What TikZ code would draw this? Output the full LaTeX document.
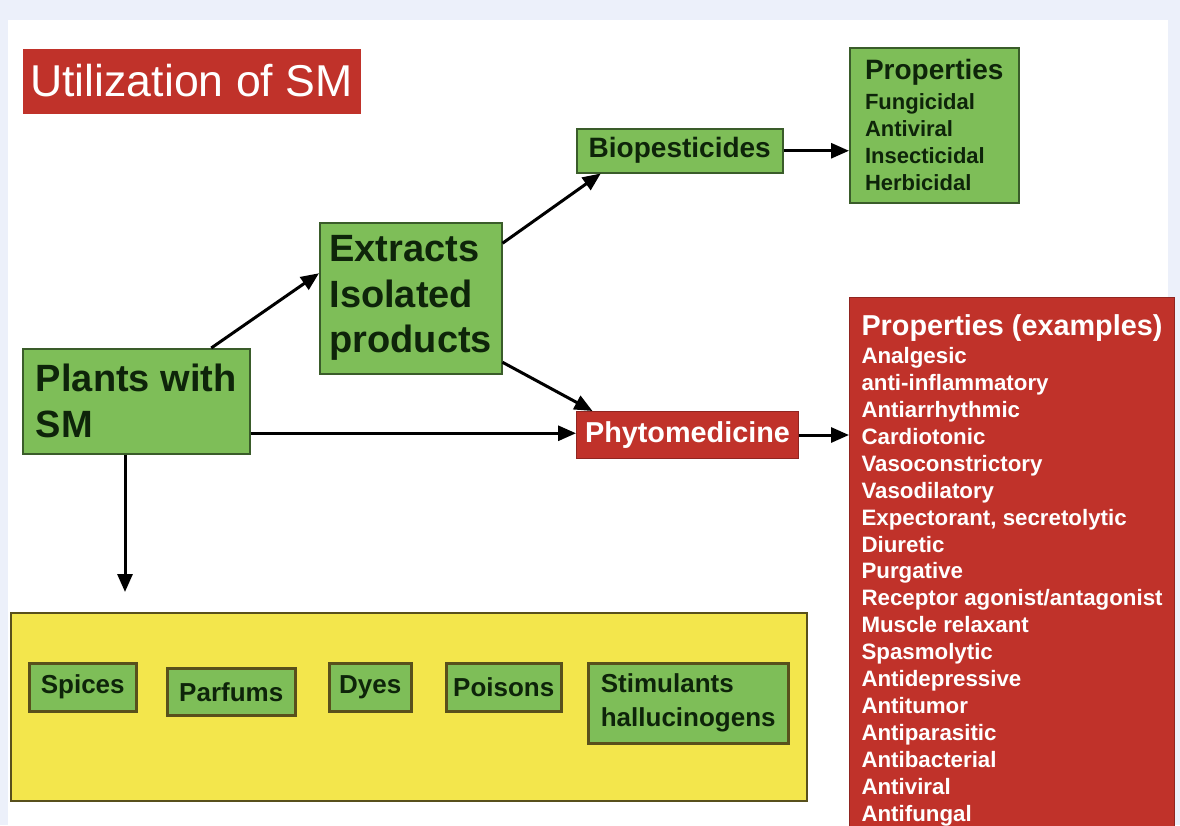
\documentclass[tikz,border=0pt]{standalone}
\usepackage{fontspec}
\setmainfont{Liberation Sans}
\usetikzlibrary{arrows.meta}
\usetikzlibrary{positioning}
\definecolor{smgreen}{RGB}{126,190,88}
\definecolor{smgreenline}{RGB}{58,92,42}
\definecolor{smred}{RGB}{192,50,42}
\definecolor{smyellow}{RGB}{243,230,76}
\definecolor{smolive}{RGB}{88,80,28}
\definecolor{smtext}{RGB}{14,36,10}
\definecolor{smframe}{RGB}{236,240,250}
\tikzset{greenbox/.style = {draw=smgreenline, fill=smgreen, line width=1.5pt, text=smtext, font=\bfseries, inner sep=0, anchor=north west}}
\tikzset{redbox/.style = {draw=smred!75!black, fill=smred, line width=1pt, text=white, font=\bfseries, inner sep=0, anchor=north west}}
\tikzset{usebox/.style = {greenbox, draw=smolive, line width=2.5pt, font=\fontsize{26}{34}\selectfont\bfseries}}
\tikzset{flow/.style = {-{Triangle[length=18pt,width=15pt]}, line width=3pt, black}}

\begin{document}
\begin{tikzpicture}[x=1pt, y=-1pt]
        \useasboundingbox (0,0) rectangle (1180,825);
        \clip (0,0) rectangle (1180,825);
        \fill [smframe] (0,0) rectangle (1180,825);
        \fill [white] (8,20) rectangle (1168,825);
        % title
        \node [redbox, draw=none, font=\fontsize{44.6}{50}\selectfont, minimum width=338, minimum height=65] (title) at (22,48) {Utilization of SM};
        % main flow
        \node [greenbox, font=\fontsize{38}{46}\selectfont\bfseries, minimum width=227, minimum height=105, align=left] (plants) at (22,348) {Plants with\\SM};
        \node [greenbox, font=\fontsize{38}{45.5}\selectfont\bfseries, minimum width=182, minimum height=151, align=left] (extracts) at (319,222) {Extracts\\Isolated\\products};
        \node [greenbox, font=\fontsize{28}{32}\selectfont\bfseries, minimum width=206, minimum height=44] (bio) at (576,128) {Biopesticides};
        \node [redbox, font=\fontsize{28.8}{32}\selectfont\bfseries, minimum width=222, minimum height=47] (phyto) at (576,411) {Phytomedicine};
        \node [greenbox, font=\fontsize{22}{27}\selectfont\bfseries, minimum width=169, minimum height=155, align=left] (propA) at (849,47)
            {{\fontsize{28}{30}\selectfont Properties}\\[3pt]Fungicidal\\Antiviral\\Insecticidal\\Herbicidal};
        \node [redbox, font=\fontsize{22.3}{26.9}\selectfont\bfseries, inner xsep=12, inner ysep=17, align=left] (propB) at (849,297)
            {{\fontsize{28.8}{30}\selectfont Properties (examples)}\\[1.5pt]Analgesic\\anti-inflammatory\\Antiarrhythmic\\Cardiotonic\\Vasoconstrictory\\Vasodilatory\\Expectorant, secretolytic\\Diuretic\\Purgative\\Receptor agonist/antagonist\\Muscle relaxant\\Spasmolytic\\Antidepressive\\Antitumor\\Antiparasitic\\Antibacterial\\Antiviral\\Antifungal};
        % other uses
        \node [draw=smolive, fill=smyellow, line width=2pt, minimum width=796, minimum height=188, anchor=north west] (uses) at (10,612) {};
        \coordinate (usetip) at (125,592);
        \node [usebox, minimum width=107, minimum height=48] (spices) at (28,662) {Spices};
        \node [usebox, minimum width=128, minimum height=47] (parfums) at (166,667) {Parfums};
        \node [usebox, minimum width=82, minimum height=48] (dyes) at (328,662) {Dyes};
        \node [usebox, minimum width=115, minimum height=48] (poisons) at (445,662) {Poisons};
        \node [usebox, minimum width=200, minimum height=80, align=left] (stimulants) at (587,662) {Stimulants\\hallucinogens};
        % arrows
        \draw [flow] ([xshift=75pt]plants.north) -- ([yshift=25pt]extracts.west);
        \draw [flow] ([yshift=55pt]extracts.east) -- ([xshift=-79pt]bio.south);
        \draw [flow] ([yshift=-64pt]extracts.east) -- ([xshift=-95pt]phyto.north);
        \draw [flow] ([yshift=-32pt]plants.east) -- ([yshift=-32pt]plants.east -| phyto.west);
        \draw [flow] (bio.east) -- (bio.east -| propA.west);
        \draw [flow] (phyto.east) -- (phyto.east -| propB.west);
        \draw [flow] (plants.south -| usetip) -- (usetip);
    \end{tikzpicture}
\end{document}
